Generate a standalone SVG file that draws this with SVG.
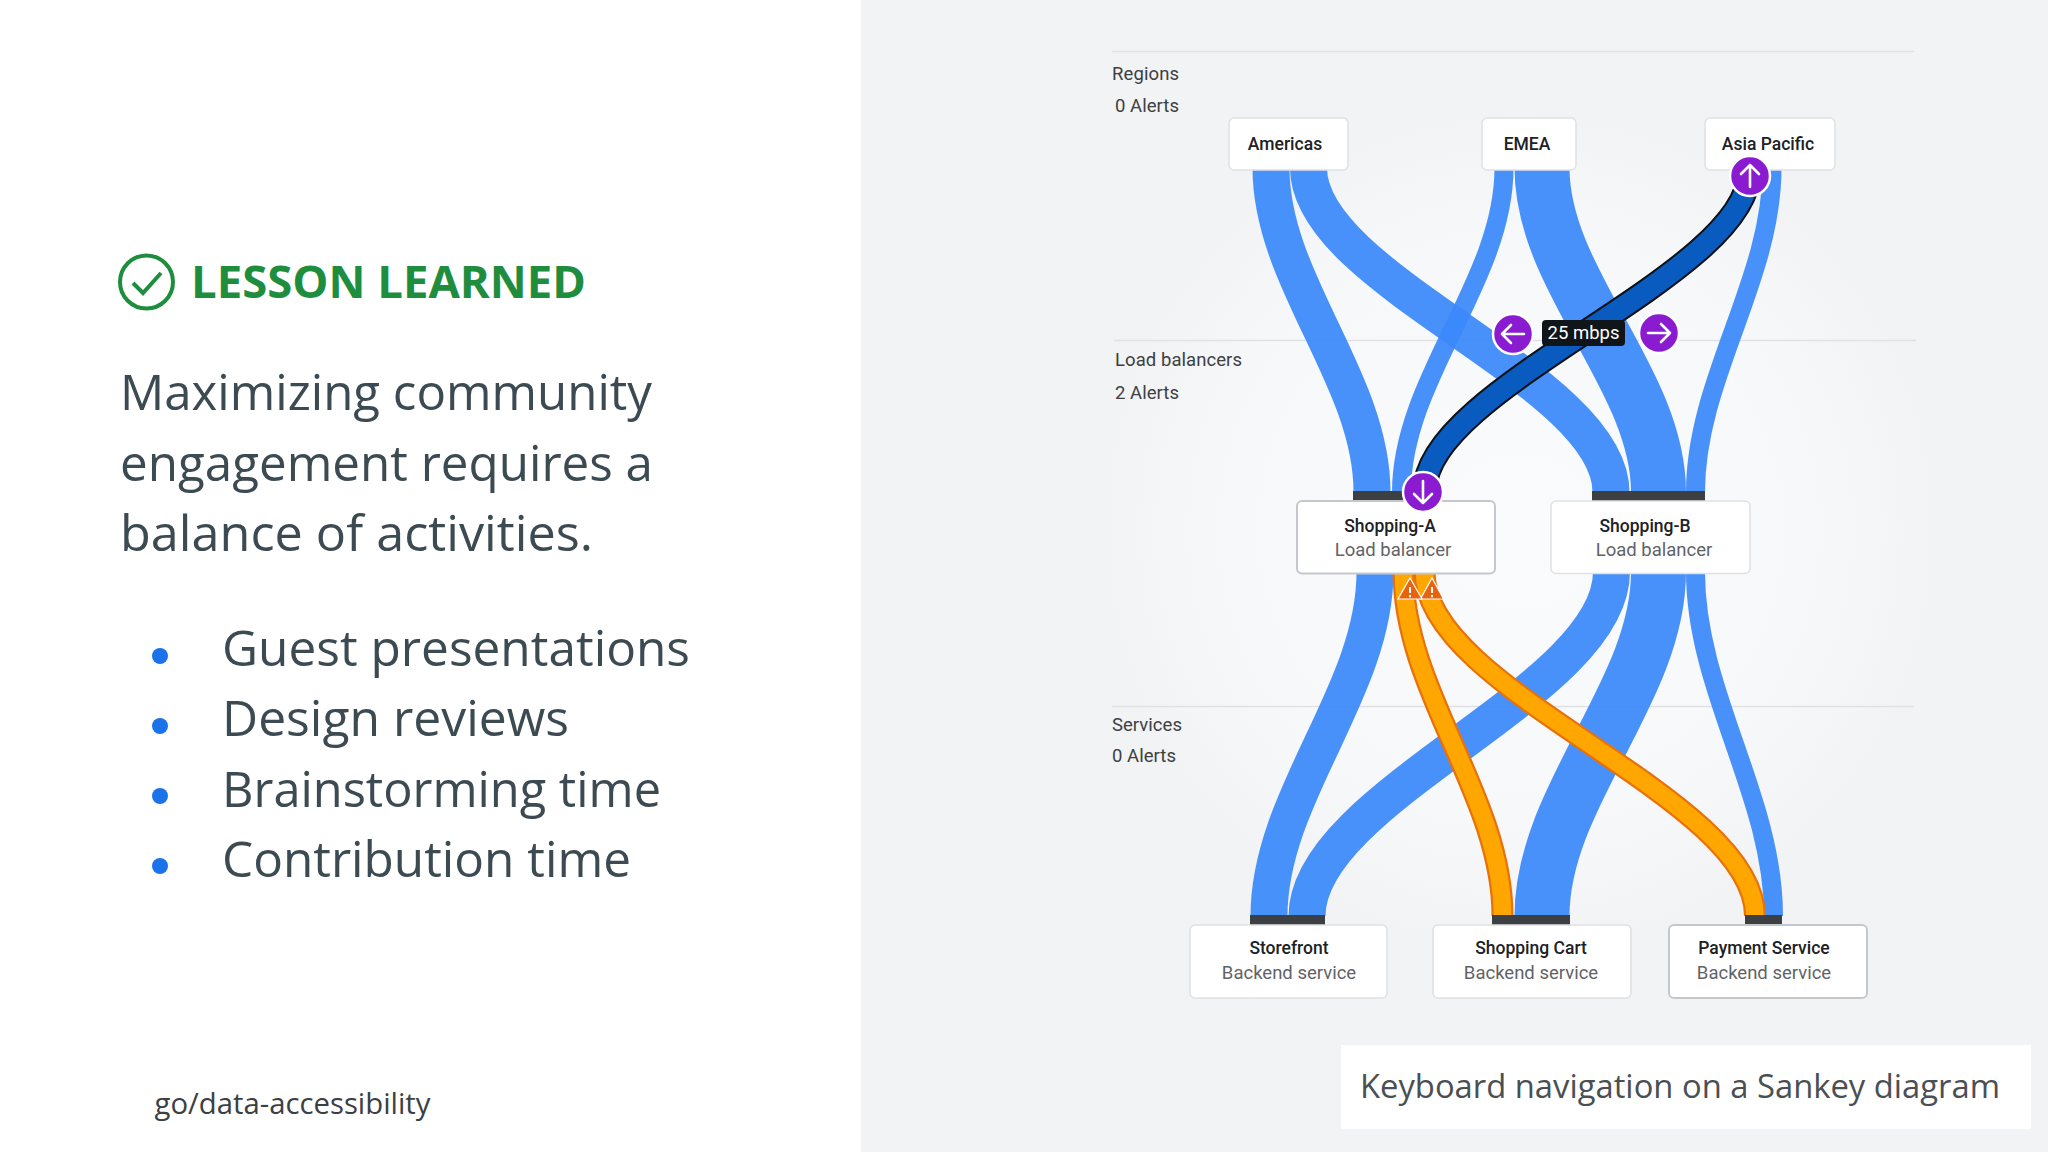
<svg xmlns="http://www.w3.org/2000/svg" width="2048" height="1152" viewBox="0 0 2048 1152">
<style>
.r{font-family:Roboto,"Liberation Sans",sans-serif}
.lab{font-size:18.5px;fill:#3c4043}
.t{font-size:17.5px;font-weight:500;fill:#202124;text-anchor:middle}
.s{font-size:18.5px;fill:#5f6368;text-anchor:middle}
.g{font-family:"Open Sans","Liberation Sans",sans-serif}
.body{font-size:50px;fill:#3c4a52}
.node{fill:#fff;stroke:#dfe1e5;stroke-width:1.5}
.focus{fill:#fff;stroke:#c4c7cc;stroke-width:2}
.sep{stroke:#dfe1e5;stroke-width:1.5}
.flow{fill:none;stroke:#3a89fb;stroke-opacity:.93}
.bar{fill:#3c4043}
.kb{fill:#8a1bd1;stroke:#fff;stroke-width:2.5}
.arr{fill:none;stroke:#fff;stroke-width:2.6;stroke-linecap:round;stroke-linejoin:round}
.bul{fill:#1a73e8}
.tri{fill:#e8630e;stroke:#fff;stroke-width:1.2}
</style>
<defs>
<radialGradient id="glow" gradientUnits="userSpaceOnUse" cx="1520" cy="530" r="420">
<stop offset="0" stop-color="#fafbfc"/><stop offset=".7" stop-color="#f7f8fa"/><stop offset="1" stop-color="#f7f8fa" stop-opacity="0"/>
</radialGradient>
</defs>
<rect width="2048" height="1152" fill="#fff"/>
<rect x="861" width="1187" height="1152" fill="#f1f3f4"/>
<rect x="1000" y="60" width="1048" height="960" fill="url(#glow)"/>

<g id="left-panel">
<circle cx="146.500" cy="282" r="26.500" fill="none" stroke="#1e8e3e" stroke-width="4"/>
<path d="M133 283l10 10 18-20" fill="none" stroke="#1e8e3e" stroke-width="4"/>
<text class="g" x="191" y="298" font-size="45" font-weight="700" fill="#1e8e3e" textLength="395" lengthAdjust="spacingAndGlyphs">LESSON LEARNED</text>
<text class="g body" x="120" y="410" textLength="532" lengthAdjust="spacingAndGlyphs">Maximizing community</text>
<text class="g body" x="120" y="481" textLength="533" lengthAdjust="spacingAndGlyphs">engagement requires a</text>
<text class="g body" x="120" y="551" textLength="473" lengthAdjust="spacingAndGlyphs">balance of activities.</text>
<circle class="bul" cx="160" cy="656" r="8"/><text class="g body" x="222" y="666" textLength="468" lengthAdjust="spacingAndGlyphs">Guest presentations</text>
<circle class="bul" cx="160" cy="726" r="8"/><text class="g body" x="222" y="736" textLength="347" lengthAdjust="spacingAndGlyphs">Design reviews</text>
<circle class="bul" cx="160" cy="796" r="8"/><text class="g body" x="222" y="807" textLength="439" lengthAdjust="spacingAndGlyphs">Brainstorming time</text>
<circle class="bul" cx="160" cy="866" r="8"/><text class="g body" x="222" y="877" textLength="409" lengthAdjust="spacingAndGlyphs">Contribution time</text>
<text class="g" x="154.500" y="1114" font-size="29" fill="#3c4043" textLength="276" lengthAdjust="spacingAndGlyphs">go/data-accessibility</text>
</g>

<g id="tiers">
<line class="sep" x1="1112" y1="51.500" x2="1914" y2="51.500"/>
<line class="sep" x1="1114" y1="340.500" x2="1916" y2="340.500"/>
<line class="sep" x1="1112" y1="706.500" x2="1914" y2="706.500"/>
<text class="r lab" x="1112" y="80" textLength="67">Regions</text>
<text class="r lab" x="1115" y="112" textLength="64">0 Alerts</text>
<text class="r lab" x="1115" y="365.500" textLength="127">Load balancers</text>
<text class="r lab" x="1115" y="398.500" textLength="64">2 Alerts</text>
<text class="r lab" x="1112" y="731" textLength="70">Services</text>
<text class="r lab" x="1112" y="761.500" textLength="64">0 Alerts</text>
</g>

<g id="connectors">
<path class="flow" stroke-width="37" d="M1271 168C1271 281 1372 379 1372 492"/>
<path class="flow" stroke-width="37" d="M1308.500 168C1308.500 281 1611 379 1611 492"/>
<path class="flow" stroke-width="19" d="M1504 168C1504 281 1401.500 379 1401.500 492"/>
<path class="flow" stroke-width="55" d="M1542 168C1542 281 1658.500 379 1658.500 492"/>
<path class="flow" stroke-width="19" d="M1772 168C1772 281 1695.500 379 1695.500 492"/>
<path class="flow" stroke-width="37" d="M1375 572C1375 692 1269 796 1269 916"/>
<path class="flow" stroke-width="37" d="M1611.500 572C1611.500 692 1307 796 1307 916"/>
<path class="flow" stroke-width="55" d="M1658.500 572C1658.500 692 1542 796 1542 916"/>
<path class="flow" stroke-width="19" d="M1695.500 572C1695.500 692 1773.500 796 1773.500 916"/>
<path fill="none" stroke="#e8710a" stroke-width="22" d="M1403.500 572C1403.500 692 1502.500 796 1502.500 916"/>
<path fill="none" stroke="#ffa600" stroke-width="17.500" d="M1403.500 572C1403.500 692 1502.500 796 1502.500 916"/>
<path fill="none" stroke="#e8710a" stroke-width="22" d="M1424.500 572C1424.500 692 1755 796 1755 916"/>
<path fill="none" stroke="#ffa600" stroke-width="17.500" d="M1424.500 572C1424.500 692 1755 796 1755 916"/>
<path fill="none" stroke="#0c1116" stroke-width="25" d="M1749 172C1749 275 1425 387 1425 490"/>
<path fill="none" stroke="#0a5bc0" stroke-width="21" d="M1749 172C1749 275 1425 387 1425 490"/>
</g>

<g id="americas"><rect class="node" x="1229" y="118" width="119" height="52" rx="5"/><text class="r t" x="1285" y="150">Americas</text></g>
<g id="emea"><rect class="node" x="1482" y="118" width="94" height="52" rx="5"/><text class="r t" x="1527" y="150">EMEA</text></g>
<g id="asia-pacific"><rect class="node" x="1705" y="118" width="130" height="52" rx="5"/><text class="r t" x="1768" y="150">Asia Pacific</text></g>
<g id="shopping-a"><rect class="bar" x="1353" y="491" width="83" height="10"/><rect class="focus" x="1297" y="501" width="198" height="72.500" rx="5"/><text class="r t" x="1390" y="531.500">Shopping-A</text><text class="r s" x="1393" y="556">Load balancer</text></g>
<g id="shopping-b"><rect class="bar" x="1592" y="491" width="113" height="10"/><rect class="node" x="1551" y="501" width="199" height="72.500" rx="5"/><text class="r t" x="1645" y="531.500">Shopping-B</text><text class="r s" x="1654" y="556">Load balancer</text></g>
<g id="storefront"><rect class="bar" x="1250" y="915" width="75" height="10"/><rect class="node" x="1190" y="925" width="197" height="73" rx="5"/><text class="r t" x="1289" y="954">Storefront</text><text class="r s" x="1289" y="979">Backend service</text></g>
<g id="shopping-cart"><rect class="bar" x="1492" y="915" width="78" height="10"/><rect class="node" x="1433" y="925" width="198" height="73" rx="5"/><text class="r t" x="1531" y="954">Shopping Cart</text><text class="r s" x="1531" y="979">Backend service</text></g>
<g id="payment-service"><rect class="bar" x="1745" y="915" width="37" height="10"/><rect class="focus" x="1669" y="925" width="198" height="73" rx="5"/><text class="r t" x="1764" y="954">Payment Service</text><text class="r s" x="1764" y="979">Backend service</text></g>

<g id="alerts">
<path class="tri" d="M1432 578l11.500 21h-23z"/>
<path fill="#fff" d="M1431 587h2v6h-2zM1431 595h2v2.200h-2z"/>
<path class="tri" d="M1410 578l12 21h-24z"/>
<path fill="#fff" d="M1409 587h2v6h-2zM1409 595h2v2.200h-2z"/>
</g>

<g id="keyboard-controls">
<circle class="kb" cx="1750" cy="176" r="20"/><path class="arr" d="M1750 187v-22m-9 9l9-9 9 9"/>
<circle class="kb" cx="1423" cy="492" r="20"/><path class="arr" d="M1423 481v22m-9-9l9 9 9-9"/>
<circle class="kb" cx="1513" cy="334" r="20"/><path class="arr" d="M1524 334h-22m9-9l-9 9 9 9"/>
<circle class="kb" cx="1659" cy="333" r="20"/><path class="arr" d="M1648 333h22m-9-9l9 9-9 9"/>
<rect x="1542" y="320" width="83" height="26" rx="4" fill="#10151a"/>
<text class="r" x="1583.500" y="339" font-size="18.500" fill="#fff" text-anchor="middle">25 mbps</text>
</g>

<g id="caption">
<rect x="1341" y="1045" width="690" height="84" fill="#fff"/>
<text class="g" x="1360" y="1098" font-size="33" fill="#4a4f54" textLength="640" lengthAdjust="spacingAndGlyphs">Keyboard navigation on a Sankey diagram</text>
</g>
</svg>
